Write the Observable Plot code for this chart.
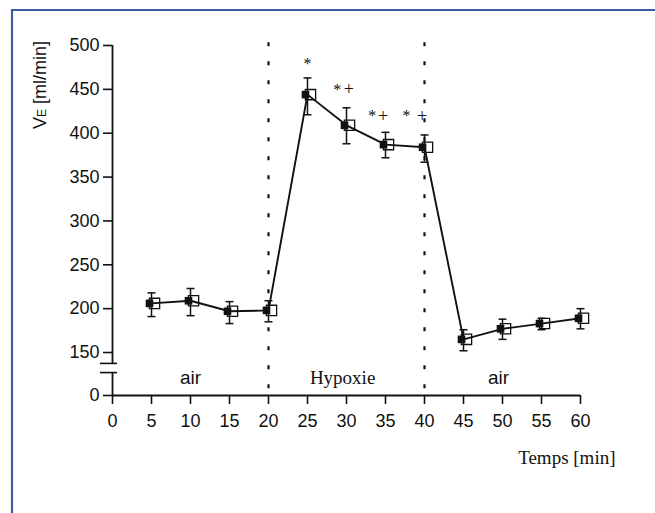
<!DOCTYPE html>
<html><head><meta charset="utf-8">
<script src="https://cdn.jsdelivr.net/npm/d3@7"></script>
<script src="https://cdn.jsdelivr.net/npm/@observablehq/plot@0.6"></script>
<style>body{margin:0;background:#fff;overflow:hidden}</style>
</head><body><div id="chart"></div>
<script>
// ---- data ----
const times = [5, 10, 15, 20, 25, 30, 35, 40, 45, 50, 55, 60];
const veMean = [206, 209, 197, 198, 444, 409, 387, 384, 165, 177, 183, 189];
const veUpper = [218, 223, 208, 209, 463, 429, 401, 398, 176, 188, 189, 200];
const veLower = [191, 192, 183, 185, 421, 388, 372, 367, 152, 165, 176, 177];
const xTicks = [0, 5, 10, 15, 20, 25, 30, 35, 40, 45, 50, 55, 60];
const yTicks = [0, 150, 200, 250, 300, 350, 400, 450, 500];
const phaseLabels = ["air", "Hypoxie", "air"];
const phaseTimes = [10, 29.5, 49.5];
const phaseSerif = [false, true, false];
const phaseBounds = [20, 40];
const starTimes = [25, 28.8, 33.3, 37.7];
const starLevels = [479, 449, 420, 420];
const plusTimes = [30.3, 34.7, 39.7];
const plusLevels = [450, 419, 419];
const yBreak = [80, 112];

const rows = times.map((t, i) => ({t, mean: veMean[i], lo: veLower[i], hi: veUpper[i]}));
const phases = phaseLabels.map((label, i) => ({label, t: phaseTimes[i], serif: phaseSerif[i]}));
const stars = starTimes.map((t, i) => ({t, v: starLevels[i]}));
const pluses = plusTimes.map((t, i) => ({t, v: plusLevels[i]}));

// broken y axis: the 0–150 stretch is compressed
const squeeze = 49 / 150;
const yTransform = v => v >= 150 ? v : 150 - (150 - v) * squeeze;
const yInverse = u => u >= 150 ? u : 150 - (150 - u) / squeeze;

const capSymbol = {draw(ctx, size) { const w = Math.sqrt(size) / 2; ctx.moveTo(-w, 0); ctx.lineTo(w, 0); }};

const sans = "'Liberation Sans', Arial, sans-serif";
const serif = "'Liberation Serif', 'Times New Roman', serif";

const chart = Plot.plot({
  width: 655, height: 513,
  marginLeft: 112, marginRight: 75, marginTop: 45, marginBottom: 118,
  style: {fontFamily: sans, fontSize: "18px", background: "#fff", color: "#111"},
  x: {domain: [0, 60]},
  y: {transform: yTransform, domain: [yTransform(0), 500]},
  marks: [
    Plot.ruleX(phaseBounds, {x: d => d, y1: 503, y2: -25, stroke: "#111", strokeWidth: 2.2, strokeDasharray: "4,15"}),
    Plot.axisX({ticks: xTicks, tickSize: 9, tickPadding: 10, fontSize: 18, label: null, strokeWidth: 1.6}),
    Plot.axisY({ticks: yTicks.map(yTransform), tickFormat: u => String(Math.round(yInverse(u))), tickSize: 9, tickPadding: 4, fontSize: 18, label: null, strokeWidth: 1.6}),
    Plot.ruleY([0], {x1: 0, x2: 60, stroke: "#111", strokeWidth: 1.8}),
    Plot.ruleX([{a: 0, b: yBreak[0]}, {a: yBreak[1], b: 500}], {x: () => 0, y1: "a", y2: "b", stroke: "#111", strokeWidth: 1.8}),
    Plot.ruleY(yBreak, {y: d => d, x1: -1.55, x2: 0.65, stroke: "#111", strokeWidth: 1.6}),
    Plot.ruleX(rows, {x: "t", y1: "lo", y2: "hi", stroke: "#111", strokeWidth: 1.5}),
    Plot.dot(rows, {x: "t", y: "hi", symbol: capSymbol, r: 4.5, stroke: "#111", strokeWidth: 1.5}),
    Plot.dot(rows, {x: "t", y: "lo", symbol: capSymbol, r: 4.5, stroke: "#111", strokeWidth: 1.5}),
    Plot.line(rows, {x: "t", y: "mean", stroke: "#111", strokeWidth: 1.9}),
    Plot.dot(rows, {x: "t", y: "mean", symbol: "square", r: 5.8, stroke: "#111", fill: "none", strokeWidth: 1.3, dx: 3}),
    Plot.dot(rows, {x: "t", y: "mean", symbol: "square", r: 4.3, fill: "#111", stroke: "none", dx: -2}),
    Plot.text(phases.filter(d => !d.serif), {x: "t", y: () => 63, text: "label", fontSize: 19, fill: "#111"}),
    Plot.text(phases.filter(d => d.serif), {x: "t", y: () => 63, text: "label", fontSize: 19, fontFamily: serif, fill: "#111"}),
    Plot.text(stars, {x: "t", y: "v", text: () => "*", fontSize: 16, fontFamily: serif, fill: "#111"}),
    Plot.text(pluses, {x: "t", y: "v", text: () => "+", fontSize: 18, fontFamily: serif, fill: "#111"}),
    Plot.text(["Temps [min]"], {frameAnchor: "bottom-right", dx: 35, dy: 68, textAnchor: "end", fontSize: 19, fontFamily: serif, fill: "#111"})
  ]
});

const svg = d3.select(chart);
// outer blue frame (left and top edges visible)
svg.append("path").attr("d", "M12,513 L12,10 L655,10").attr("fill", "none").attr("stroke", "#3a5da6").attr("stroke-width", 2.2);
// y axis title
const yt = svg.append("text")
  .attr("transform", "translate(46,85) rotate(-90)")
  .attr("text-anchor", "middle")
  .attr("font-family", sans).attr("font-size", 18).attr("fill", "#111");
yt.append("tspan").text("V");
yt.append("tspan").attr("font-size", 12).text("E");
yt.append("tspan").text(" [ml/min]");

document.getElementById("chart").appendChild(chart);
</script></body></html>
